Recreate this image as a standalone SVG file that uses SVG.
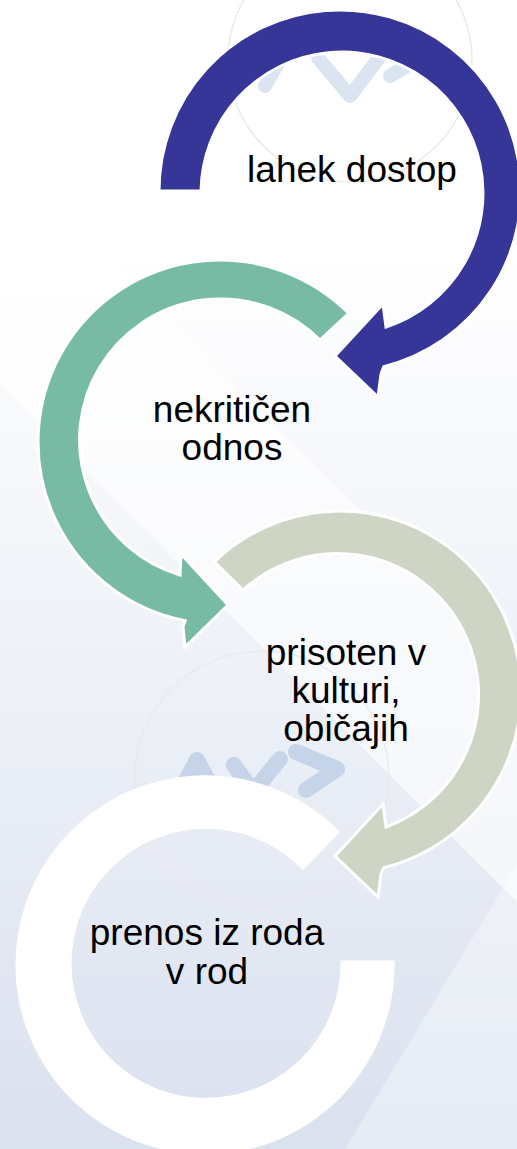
<svg xmlns="http://www.w3.org/2000/svg" width="517" height="1149" viewBox="0 0 517 1149">
  <defs>
    <linearGradient id="bgGrad" gradientUnits="userSpaceOnUse" x1="0" y1="250" x2="0" y2="1149">
      <stop offset="0" stop-color="#ffffff"/>
      <stop offset="1" stop-color="#dae1ef"/>
    </linearGradient>
  </defs>
  <style>
    .arrow { stroke: #ffffff; stroke-width: 3; stroke-linejoin: miter; }
    .label { font-family: "Liberation Sans", Arial, sans-serif; font-size: 37px; fill: #000000; text-anchor: middle; }
    .logoTop { fill: none; stroke: #dbe5f2; stroke-width: 14; stroke-linecap: round; stroke-linejoin: round; }
    .logoMid { fill: none; stroke: #c6d4ea; stroke-width: 16; stroke-linecap: round; stroke-linejoin: round; }
    .logoRing { fill: none; stroke: #e7eaf0; stroke-width: 1.5; }
  </style>

  <g id="background">
    <rect x="0" y="0" width="517" height="1149" fill="url(#bgGrad)"/>
    <polygon points="0,150 517,667 517,902 0,385" fill="#ffffff" opacity="0.6"/>
    <polygon points="517,865 517,1149 345,1149" fill="#ffffff" opacity="0.35"/>
    <circle class="logoRing" cx="350" cy="60" r="122"/>
    <polyline class="logoTop" points="265,86 281,58"/>
    <polyline class="logoTop" points="318,58 350,96 379,58"/>
    <polyline class="logoTop" points="390,76 410,64"/>
    <circle class="logoRing" cx="262" cy="778" r="127"/>
    <polyline class="logoMid" points="182,788 197,760 212,788"/>
    <polyline class="logoMid" points="234,765 253,792 280,759"/>
    <polyline class="logoMid" points="296,752 337,769 306,790"/>
  </g>

  <g id="connectors"/>

  <g id="node-1">
    <path class="arrow" fill="#363699" d="M 159 191 A 181 181 0 1 1 383.8 366.6 L 381 374 L 378 397 L 335 356 L 383 304 L 386 327 A 141 141 0 1 0 201 191 Z"/>
    <text class="label" x="352" y="182">lahek dostop</text>
  </g>

  <g id="node-2">
    <path class="arrow" fill="#78bba5" d="M 348.7 313.3 A 182 182 0 1 0 185.3 620.7 L 183 627 L 185 647 L 228 605 L 181 554 L 180 575 A 141 141 0 1 1 320 340 Z"/>
    <text class="label" x="232" y="422">nekritičen</text>
    <text class="label" x="232" y="460">odnos</text>
  </g>

  <g id="node-3">
    <path class="arrow" fill="#cfd5c5" d="M 214.3 561.8 A 181 181 0 1 1 383.8 867.6 L 381 874 L 378 897 L 335 856 L 383 804 L 386 827 A 141 141 0 1 0 243 590 Z"/>
    <text class="label" x="346" y="665">prisoten v</text>
    <text class="label" x="346" y="703">kulturi,</text>
    <text class="label" x="346" y="741">običajih</text>
  </g>

  <g id="node-4">
    <path class="arrow" fill="#ffffff" d="M 338 832 A 188 188 0 1 0 393 962 L 342 962 A 136 136 0 1 1 303 868 Z"/>
    <text class="label" x="207" y="945">prenos iz roda</text>
    <text class="label" x="207" y="984">v rod</text>
  </g>
</svg>
